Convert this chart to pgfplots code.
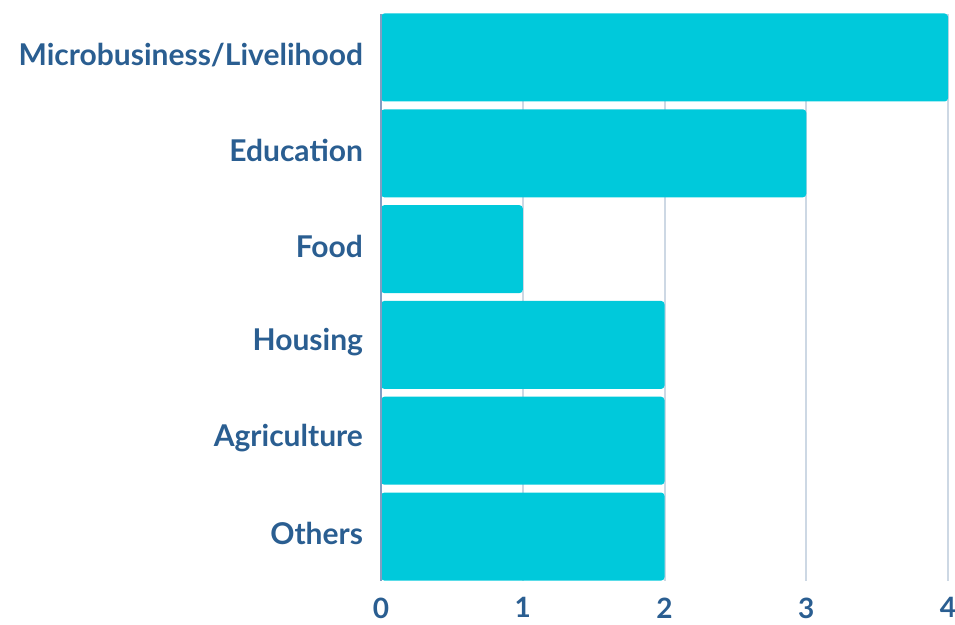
\documentclass[border=0pt]{standalone}
\usepackage{fontspec}
\setmainfont{Lato}
\usepackage{pgfplots}
\pgfplotsset{compat=1.18}
\definecolor{txt}{RGB}{42,94,145}
\definecolor{bar}{RGB}{0,201,219}
\definecolor{gridc}{RGB}{205,216,228}
\definecolor{axc}{RGB}{130,158,194}
\begin{document}
\begin{tikzpicture}
\path[use as bounding box] (0,0) rectangle (716.25pt,468pt);
\begin{axis}[
  at={(285.75pt,32.25pt)}, anchor=south west,
  scale only axis, width=425.25pt, height=425.25pt,
  xbar, bar width=66pt, bar shift=0pt,
  xmin=0, xmax=4, ymin=-0.454, ymax=5.464,
  y dir=reverse, clip=false,
  axis line style={draw=none},
  xtick={0,1,2,3,4},
  ytick={0,1,2,3,4,5},
  yticklabels={Microbusiness/Livelihood,Education,Food,Housing,Agriculture,Others},
  major tick length=0pt,
  xmajorgrids, grid style={gridc, line width=1.5pt},
  tick label style={font=\fontsize{22.5}{27}\selectfont\bfseries, text=txt},
  xticklabel style={font=\fontsize{21}{25}\selectfont\bfseries, yshift=-9pt},
  /pgf/number format/assume math mode=true,
  yticklabel style={xshift=-10pt, yshift=2pt},
]
\addplot[fill=bar, draw=none, rounded corners=2.5pt] coordinates {(4,0) (3,1) (1,2) (2,3) (2,4) (2,5)};
\draw[axc, line width=1.5pt] (axis cs:0,-0.454) -- (axis cs:0,5.464);
\end{axis}
\end{tikzpicture}
\end{document}
